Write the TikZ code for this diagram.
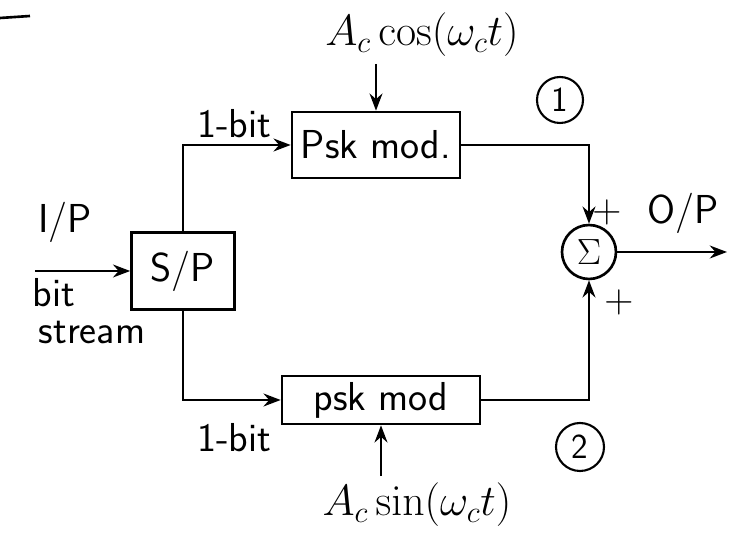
\documentclass[tikz,border=0pt]{standalone}
\usetikzlibrary{arrows.meta,positioning,calc}

\begin{document}
\begin{tikzpicture}[x=0.02cm, y=-0.02cm, >=Stealth, line width=1.5pt,
  modbox/.style={draw, minimum height=1.3cm, inner sep=2pt, font=\sffamily\fontsize{23}{25}\selectfont},
  sumnode/.style={draw, circle, minimum size=1.08cm, inner sep=0pt, font=\fontsize{22}{24}\selectfont},
  tag/.style={draw, circle, line width=1.2pt, inner sep=0pt, font=\sffamily\fontsize{20}{22}\selectfont},
  lbl/.style={font=\sffamily\fontsize{23}{25}\selectfont},
  carrier/.style={font=\fontsize{27}{29}\selectfont}]
  \useasboundingbox (0,0) rectangle (731,536);
  \draw (0,18) -- (30,16);

  % blocks
  \node[modbox, minimum width=2.06cm, minimum height=1.54cm] (sp) at (183,271) {S/P};
  \node[modbox, minimum width=3.36cm, minimum height=1.32cm] (pskA) at (376,145) {Psk mod.};
  \node[modbox, minimum width=3.96cm, minimum height=0.96cm] (pskB) at (381,400) {psk mod};
  \node[sumnode] (sum) at (589,252) {$\Sigma$};

  % carriers
  \node[carrier] (cosl) at (422,35) {$A_c\cos(\omega_c t)$};
  \node[carrier] (sinl) at (417,505) {$A_c\sin(\omega_c t)$};
  \draw[->] (pskA.north |- cosl.south) -- (pskA.north);
  \draw[->] (pskB.south |- sinl.north) -- (pskB.south);

  % input and branches
  \coordinate (in) at (35,271);
  \node[lbl] (ip) at (65,222) {I/P};
  \node[lbl] (bitl) at (54,293) {bit};
  \node[lbl] (strl) at (92,332) {stream};
  \draw[->] (in) -- (sp.west);
  \draw[->] (sp.north) |- (pskA.west);
  \draw[->] (sp.south) |- (pskB.west);
  \node[lbl] (bitA) at (234,124) {1-bit};
  \node[lbl] (bitB) at (234,438) {1-bit};

  % to the adder
  \draw[->] (pskA.east) -| (sum.north);
  \draw[->] (pskB.east) -| (sum.south);
  \node[lbl] (plusA) at (607,212) {+};
  \node[lbl] (plusB) at (619,302) {+};
  \node[tag, minimum width=0.72cm, minimum height=0.92cm] (one) at (560,100) {1};
  \node[tag, minimum size=0.96cm] (two) at (580,447) {2};

  % output
  \coordinate (out) at (727,252);
  \draw[->] (sum.east) -- (out);
  \node[lbl] (op) at (683,213) {O/P};
\end{tikzpicture}
\end{document}
